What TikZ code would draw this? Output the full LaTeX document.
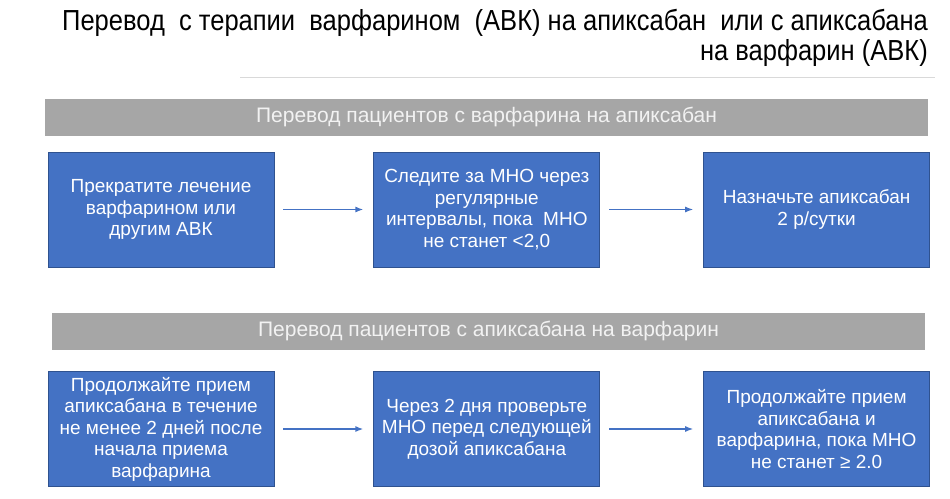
\documentclass[tikz,border=0pt]{standalone}
\usepackage{fontspec}
\setmainfont{Liberation Sans}
\newfontfamily\narrowfont[FakeStretch=0.88]{Liberation Sans}
\usepackage{tikz}
\usetikzlibrary{arrows.meta,positioning}
\definecolor{boxblue}{HTML}{4472C4}
\definecolor{boxedge}{HTML}{2F528F}
\definecolor{bargray}{HTML}{A6A6A6}
\definecolor{rulegray}{HTML}{D9D9D9}
\tikzstyle{arrow} = [-{Latex[length=8pt,width=6pt]}, draw=boxblue, line width=1.4pt,
   shorten <=9pt, shorten >=10pt]
\tikzstyle{stepbox} = [rectangle, draw=boxedge, line width=0.8pt, fill=boxblue, text=white,
   minimum width=226pt, minimum height=115pt, inner sep=0pt, align=center,
   font=\fontsize{19}{21.5}\selectfont]
\tikzstyle{header} = [rectangle, fill=bargray, text=white!95!black, inner sep=0pt,
   minimum height=37pt, font=\fontsize{21}{24}\selectfont]

\begin{document}
\begin{tikzpicture}[x=1pt, y=-1pt]
\useasboundingbox (0,0) rectangle (950,498);

\node (title) [anchor=north east, align=right, inner sep=0pt,
   font=\narrowfont\fontsize{29}{30}\selectfont] at (928,9)
   {Перевод~ с терапии~ варфарином~ (АВК) на апиксабан~ или с апиксабана\\на варфарин (АВК)};
\draw [rulegray, line width=0.8pt] (240,77) -- (935,77);

% from warfarin to apixaban
\node (h1) [header, minimum width=883pt] at (486.5,117) {Перевод пациентов с варфарина на апиксабан};

\node (a1) [stepbox] at (161,209.5) {Прекратите лечение\\варфарином или\\другим АВК};

\node (a2) [stepbox, right=99pt of a1] {Следите за МНО через\\регулярные\\интервалы, пока~ МНО\\не станет <2,0};

\draw [arrow] (a1) -- (a2);

\node (a3) [stepbox, right=103pt of a2] {Назначьте апиксабан\\2 р/сутки};

\draw [arrow] (a2) -- (a3);

% from apixaban to warfarin
\node (h2) [header, minimum width=873pt] at (488.5,331) {Перевод пациентов с апиксабана на варфарин};

\node (b1) [stepbox] at (161,429) {Продолжайте прием\\апиксабана в течение\\не менее 2 дней после\\начала приема\\варфарина};

\node (b2) [stepbox, right=99pt of b1] {Через 2 дня проверьте\\МНО перед следующей\\дозой апиксабана};

\draw [arrow] (b1) -- (b2);

\node (b3) [stepbox, right=103pt of b2] {Продолжайте прием\\апиксабана и\\варфарина, пока МНО\\не станет ≥ 2.0};

\draw [arrow] (b2) -- (b3);

\end{tikzpicture}
\end{document}
